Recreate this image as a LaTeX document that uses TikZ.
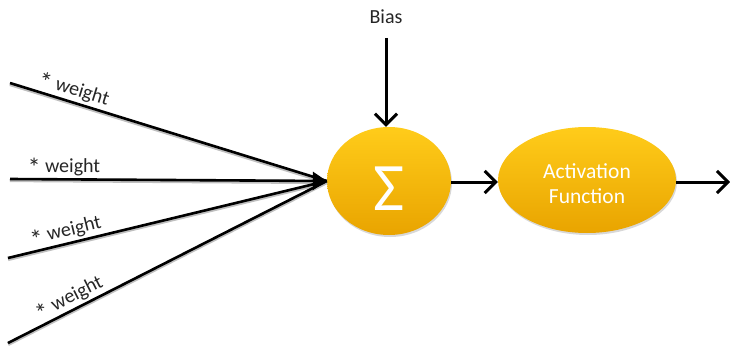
\documentclass[tikz,border=0pt]{standalone}
\usepackage{fontspec}
\setmainfont{Carlito}
\usetikzlibrary{arrows.meta,shapes.geometric,shadows}
\definecolor{txt}{HTML}{262626}
\definecolor{ytop}{HTML}{FFCC1A}
\definecolor{ybot}{HTML}{E9A400}
\newcommand{\wtext}{\raisebox{-0.5ex}{\scalebox{1.3}{*}} weight}
\tikzset{
  blob/.style={ellipse, draw=none, top color=ytop, bottom color=ybot, inner sep=0pt,
    drop shadow={shadow xshift=1pt, shadow yshift=-2pt, fill=black!30, opacity=0.5}},
  inwire/.style={line width=2.6pt, black},
  inshade/.style={line width=3.8pt, black!25},
  wlabel/.style={font=\fontsize{20}{20}\selectfont, text=txt, sloped, above, inner sep=1pt},
  arr/.style={line width=3pt, -{Straight Barb[length=11pt,width=22pt,line width=3pt]}},
}
\begin{document}
\begin{tikzpicture}[x=1pt,y=-1pt]
\useasboundingbox (0,0) rectangle (730,350);
\node[blob, minimum width=124pt, minimum height=108pt] (sum) at (389,181) {};
\node[text=white, font=\fontsize{68}{68}\selectfont] at ([yshift=-8pt]sum.center) {Σ};
\node[blob, minimum width=178pt, minimum height=106pt] (act) at (587,180) {};
\node[text=white, font=\fontsize{21.5}{25}\selectfont, align=center] at ([yshift=-4pt]act.center) {Activation\\Function};
\node[text=txt, font=\fontsize{20}{20}\selectfont] (bias) at (386,17) {Bias};
\coordinate (i1) at (10,83);
\coordinate (i2) at (10,179);
\coordinate (i3) at (8,258);
\coordinate (i4) at (8,343);
\coordinate (out) at (730,182);
\foreach \c in {i1,i2,i3,i4} {
  \draw[inshade] ([yshift=-1.2pt]\c) -- ([yshift=-1.2pt]sum.west);
}
\draw[inwire] (i1) -- (sum.west) node[wlabel, pos=0.19] {\wtext};
\draw[inwire] (i3) -- (sum.west) node[wlabel, pos=0.19] {\wtext};
\draw[inwire] (i4) -- (sum.west) node[wlabel, pos=0.21] {\wtext};
\draw[inwire, -{Triangle[length=14pt,width=18pt]}] (i2) -- (sum.west) node[wlabel, pos=0.17] {\wtext};
\draw[arr] (bias.south |- 0,38) -- (bias.south |- sum.north);
\draw[arr] (sum.east |- 0,182) -- (act.west |- 0,182);
\draw[arr] (act.east |- 0,182) -- (out);
\end{tikzpicture}
\end{document}
